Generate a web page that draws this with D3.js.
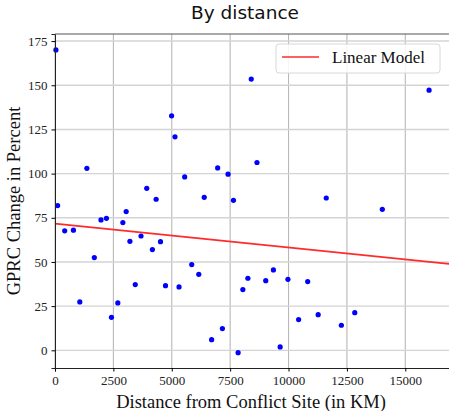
<!DOCTYPE html>
<html>
<head>
<meta charset="utf-8">
<script src="https://cdn.jsdelivr.net/npm/d3@7"></script>
<style>
  body { margin: 0; background: #fff; }
  .tick text { font-family: "Liberation Serif", serif; font-size: 13px; fill: #222; }
</style>
</head>
<body>
<div id="root"></div>
<script>
// Size of the chart
const width = 449;
const height = 411;
const margin = { top: 34, right: -3, bottom: 43, left: 55 };

// Data
const distance = [40, 112, 415, 790, 1062, 1365, 1684, 1969, 2202, 2418,
  2690, 2906, 3048, 3208, 3437, 3683, 3929, 4171, 4331, 4517,
  4732, 4993, 5138, 5311, 5553, 5855, 6157, 6390, 6706, 6965,
  7168, 7410, 7642, 7841, 8044, 8260, 8403, 8649, 9024, 9353,
  9642, 9974, 10432, 10821, 11269, 11615, 12262, 12837, 14016, 16019];
const gprcChange = [170, 81.9, 67.6, 68, 27.4, 103, 52.5, 73.8, 74.7, 18.7,
  26.8, 72.3, 78.5, 61.7, 37.2, 64.7, 91.7, 57, 85.5, 61.5,
  36.6, 132.7, 120.8, 35.9, 98.1, 48.5, 43, 86.6, 6, 103.2,
  12.3, 99.7, 84.9, -1.3, 34.4, 40.8, 153.5, 106.3, 39.4, 45.5,
  1.9, 40.2, 17.4, 38.9, 20.2, 86.2, 14.2, 21.3, 79.8, 147.2];

// Linear model coefficients
const intercept = 71.7;
const slope = -0.00135;

const xTicks = [0, 2500, 5000, 7500, 10000, 12500, 15000];
const yTicks = [0, 25, 50, 75, 100, 125, 150, 175];

const points = distance.map((d, i) => ({ x: d, y: gprcChange[i] }));

const svg = d3
  .select("#root")
  .append("svg")
  .attr("width", width)
  .attr("height", height);

// Scales
const xScale = d3
  .scaleLinear()
  .domain([0, 17000])
  .range([margin.left, width - margin.right]);

const yScale = d3
  .scaleLinear()
  .domain([-10, 179])
  .range([height - margin.bottom, margin.top]);

// Grid
const grid = svg.append("g").attr("class", "grid");

grid
  .selectAll("line.vgrid")
  .data(xTicks)
  .enter()
  .append("line")
  .attr("x1", d => xScale(d))
  .attr("x2", d => xScale(d))
  .attr("y1", yScale.range()[0])
  .attr("y2", yScale.range()[1])
  .attr("stroke", "#b8b8b8")
  .attr("stroke-width", 1.1);

grid
  .selectAll("line.hgrid")
  .data(yTicks)
  .enter()
  .append("line")
  .attr("x1", xScale.range()[0])
  .attr("x2", xScale.range()[1])
  .attr("y1", d => yScale(d))
  .attr("y2", d => yScale(d))
  .attr("stroke", "#d4d4d4")
  .attr("stroke-width", 1.4);

// Linear model line
svg
  .append("line")
  .attr("x1", xScale(0))
  .attr("y1", yScale(intercept))
  .attr("x2", xScale(17000))
  .attr("y2", yScale(intercept + slope * 17000))
  .attr("stroke", "#ff2a2a")
  .attr("stroke-width", 1.6);

// Points
svg
  .append("g")
  .selectAll("circle")
  .data(points)
  .enter()
  .append("circle")
  .attr("cx", d => xScale(d.x))
  .attr("cy", d => yScale(d.y))
  .attr("r", 2.6)
  .attr("fill", "#0000ff");

// Axes
const xAxis = d3.axisBottom(xScale).tickValues(xTicks).tickSize(3.5).tickPadding(4).tickFormat(d3.format("d"));
const yAxis = d3.axisLeft(yScale).tickValues(yTicks).tickSize(3.5).tickPadding(4);

svg
  .append("g")
  .attr("class", "x-axis")
  .attr("transform", "translate(0," + (height - margin.bottom) + ")")
  .call(xAxis)
  .call(g => g.select(".domain").attr("stroke", "#222"));

svg
  .append("g")
  .attr("class", "y-axis")
  .attr("transform", "translate(" + margin.left + ",0)")
  .call(yAxis)
  .call(g => g.select(".domain").attr("stroke", "#222"));

// Top spine
svg
  .append("line")
  .attr("x1", margin.left)
  .attr("x2", width)
  .attr("y1", margin.top)
  .attr("y2", margin.top)
  .attr("stroke", "#555")
  .attr("stroke-width", 1);

// Title
svg
  .append("text")
  .attr("x", 245)
  .attr("y", 19)
  .attr("text-anchor", "middle")
  .attr("style", "font-family: 'DejaVu Sans', sans-serif; font-size: 18.5px; fill: #111;")
  .text("By distance");

// Axis labels
svg
  .append("text")
  .attr("x", 251)
  .attr("y", 408)
  .attr("text-anchor", "middle")
  .attr("style", "font-family: 'Liberation Serif', serif; font-size: 18.5px; fill: #111;")
  .text("Distance from Conflict Site (in KM)");

svg
  .append("text")
  .attr("transform", "translate(20,201) rotate(-90)")
  .attr("text-anchor", "middle")
  .attr("style", "font-family: 'Liberation Serif', serif; font-size: 18.5px; fill: #111;")
  .text("GPRC Change in Percent");

// Legend
const legend = svg.append("g").attr("class", "legend");

legend
  .append("rect")
  .attr("x", 276)
  .attr("y", 44)
  .attr("width", 164)
  .attr("height", 29)
  .attr("rx", 3)
  .attr("fill", "rgba(255,255,255,0.85)")
  .attr("stroke", "#d8d8d8");

legend
  .append("line")
  .attr("x1", 282)
  .attr("x2", 319)
  .attr("y1", 57)
  .attr("y2", 57)
  .attr("stroke", "#ff2a2a")
  .attr("stroke-width", 1.6);

legend
  .append("text")
  .attr("x", 332)
  .attr("y", 63)
  .attr("style", "font-family: 'Liberation Serif', serif; font-size: 17px; fill: #111;")
  .text("Linear Model");
</script>
</body>
</html>
